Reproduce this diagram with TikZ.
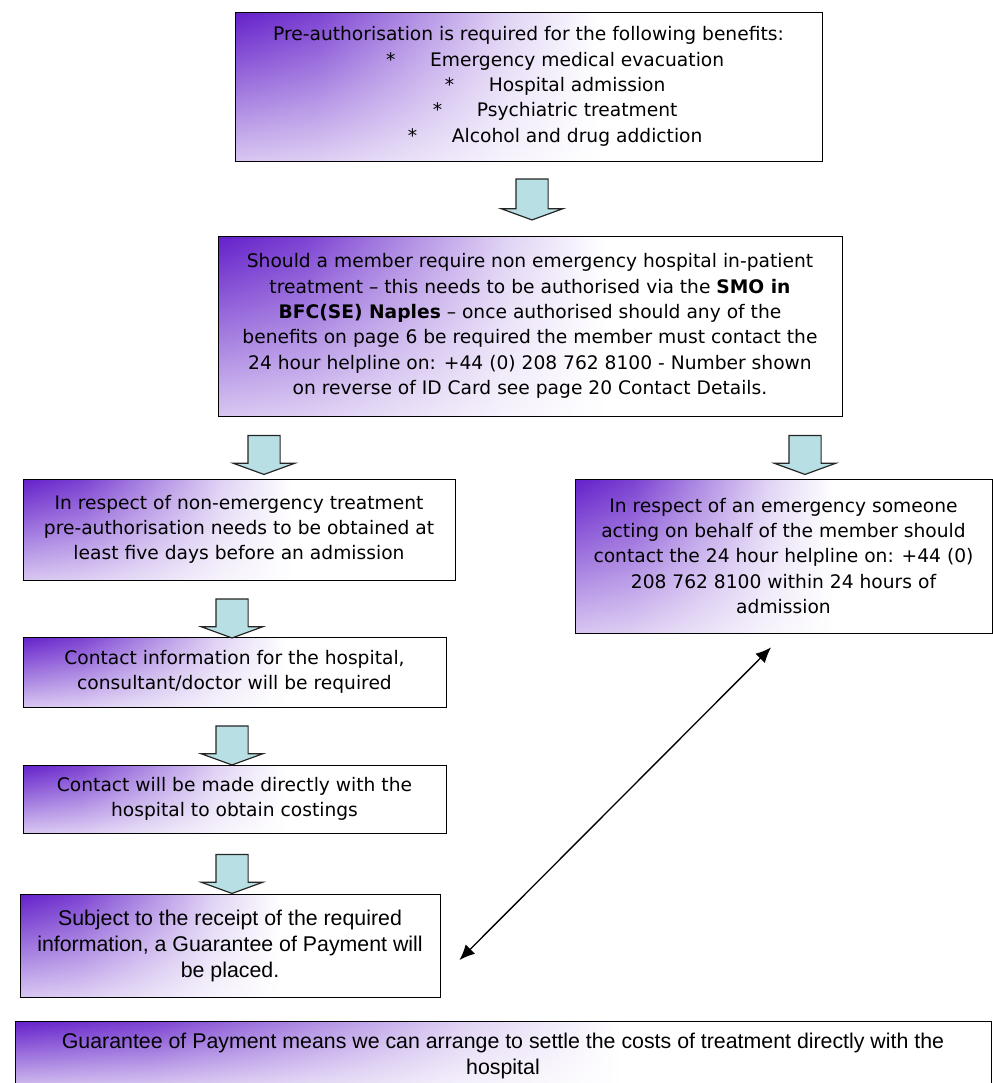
\documentclass[tikz,border=0pt]{standalone}
\usepackage{fontspec}
\setmainfont{DejaVu Sans}
\newfontfamily\narrowfont{Liberation Sans}
\usetikzlibrary{shapes.arrows,arrows.meta,calc,fadings}
\definecolor{boxpurple}{RGB}{100,32,202}
\definecolor{arrowfill}{RGB}{184,224,228}
\newlength{\px}\setlength{\px}{0.75pt}
\pgfdeclarehorizontalshading{purplefade}{100bp}{color(0bp)=(boxpurple);color(25bp)=(boxpurple);color(32bp)=(boxpurple!85!white);color(40bp)=(boxpurple!52!white);color(48bp)=(boxpurple!20!white);color(56bp)=(white);color(100bp)=(white)}
\tikzfading[name=fadedown,top color=transparent!100,bottom color=transparent!25]
\tikzset{
  infobox/.style 2 args={draw=black,line width=0.75pt,align=center,inner sep=0pt,
    minimum width=#1\px,minimum height=#2\px,font=\fontsize{14}{19}\selectfont,
    preaction={shading=purplefade},preaction={fill=white,path fading=fadedown}},
  narrowfont/.style={font=\narrowfont\fontsize{16}{19.5}\selectfont},
  downarrow/.style={single arrow,shape border rotate=270,draw=black!85,fill=arrowfill,
    line width=0.9pt,inner sep=15.5\px,minimum height=39\px,
    single arrow head extend=14.5\px,single arrow tip angle=140,single arrow head indent=0pt}
}
\begin{document}
\begin{tikzpicture}[x=0.75pt,y=-0.75pt,>={Latex[length=11.5pt,width=10pt]}]
\useasboundingbox (0,0) rectangle (993,1083);
\clip (0,0) rectangle (993,1083);
% boxes
\node[infobox={587}{149}] (preauth) at (528.5,86.5)
  {Pre-authorisation is required for the following benefits:\\
   \hspace*{40pt}*\hspace{26pt}Emergency medical evacuation\\
   \hspace*{40pt}*\hspace{26pt}Hospital admission\\
   \hspace*{40pt}*\hspace{26pt}Psychiatric treatment\\
   \hspace*{40pt}*\hspace{26pt}Alcohol and drug addiction};
\node[infobox={624}{180}] (inpatient) at (530,326)
  {Should a member require non emergency hospital in-patient\\
   treatment – this needs to be authorised via the \textbf{SMO in}\\
   \textbf{BFC(SE) Naples} – once authorised should any of the\\
   benefits on page 6 be required the member must contact the\\
   24 hour helpline on: +44 (0) 208 762 8100 - Number shown\\
   on reverse of ID Card see page 20 Contact Details.};
\node[infobox={432}{101}] (nonemerg) at (239,529.5)
  {In respect of non-emergency treatment\\
   pre-authorisation needs to be obtained at\\
   least five days before an admission};
\node[infobox={417}{154}] (emerg) at (783.5,556)
  {In respect of an emergency someone\\
   acting on behalf of the member should\\
   contact the 24 hour helpline on: +44 (0)\\
   208 762 8100 within 24 hours of\\
   admission};
\node[infobox={423}{70}] (contact) at (234.5,672)
  {Contact information for the hospital,\\
   consultant/doctor will be required};
\node[infobox={423}{68}] (costings) at (234.5,799)
  {Contact will be made directly with the\\
   hospital to obtain costings};
\node[infobox={420}{103},narrowfont] (guarantee) at (230,945.5)
  {Subject to the receipt of the required\\
   information, a Guarantee of Payment will\\
   be placed.};
\node[infobox={976}{69},narrowfont] (means) at (503,1055.5)
  {Guarantee of Payment means we can arrange to settle the costs of treatment directly with the\\
   hospital};
% block arrows
\node[downarrow,minimum height=41\px] (a1) at (532,196.5) {};
\node[downarrow] (a2) at (264,452) {};
\node[downarrow] (a3) at (805,452) {};
\node[downarrow] (a4) at (232,615.5) {};
\node[downarrow] (a5) at (232,742.5) {};
\node[downarrow] (a6) at (232,871) {};
% link between the two routes
\coordinate (lowend) at ($(guarantee.east)+(19,14.5)$);
\coordinate (upend) at ($(emerg.south)+(-12.5,14)$);
\draw[<->,line width=1pt] (lowend) -- (upend);
\end{tikzpicture}
\end{document}
